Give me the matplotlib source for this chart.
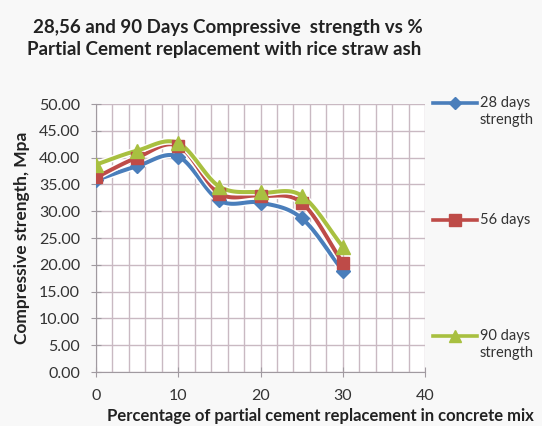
import numpy as np
import matplotlib
matplotlib.use("Agg")
import matplotlib.pyplot as plt
import matplotlib.patheffects as pe
from matplotlib.lines import Line2D

replacement = [0, 5, 10, 15, 20, 25, 30]
days28 = [35.8, 38.4, 40.2, 32.0, 31.6, 28.7, 18.9]
days56 = [36.3, 40.0, 42.2, 33.3, 32.9, 31.6, 20.4]
days90 = [38.7, 41.3, 42.7, 34.6, 33.5, 32.9, 23.4]
series_names = ["28 days\nstrength", "56 days", "90 days\nstrength"]
x_ticks = [0, 10, 20, 30, 40]
y_ticks = [0, 5, 10, 15, 20, 25, 30, 35, 40, 45, 50]

FONT = ["Lato", "DejaVu Sans"]
plt.rcParams['font.family'] = FONT


def smooth(x, y, n=20):
    x = np.asarray(x, float)
    y = np.asarray(y, float)
    px = np.concatenate([[2 * x[0] - x[1]], x, [2 * x[-1] - x[-2]]])
    py = np.concatenate([[2 * y[0] - y[1]], y, [2 * y[-1] - y[-2]]])
    xs, ys = [], []
    t = np.linspace(0, 1, n, endpoint=False)
    for i in range(1, len(px) - 2):
        p0, p1, p2, p3 = px[i - 1], px[i], px[i + 1], px[i + 2]
        q0, q1, q2, q3 = py[i - 1], py[i], py[i + 1], py[i + 2]
        c1x, c1y = p1 + (p2 - p0) / 6, q1 + (q2 - q0) / 6
        c2x, c2y = p2 - (p3 - p1) / 6, q2 - (q3 - q1) / 6
        bx = (1 - t) ** 3 * p1 + 3 * (1 - t) ** 2 * t * c1x + 3 * (1 - t) * t ** 2 * c2x + t ** 3 * p2
        by = (1 - t) ** 3 * q1 + 3 * (1 - t) ** 2 * t * c1y + 3 * (1 - t) * t ** 2 * c2y + t ** 3 * q2
        xs.extend(bx)
        ys.extend(by)
    xs.append(x[-1])
    ys.append(y[-1])
    return np.array(xs), np.array(ys)


fig = plt.figure(figsize=(5.42, 4.26), dpi=100, facecolor="#f8f8f8")
ax = fig.add_axes([96 / 542, 54 / 426, 329 / 542, 268 / 426])
ax.set_facecolor("white")

colors = ["#4a7ebb", "#be4b48", "#a8c040"]
markers = ["D", "s", "^"]
msizes = [7, 9, 10]
data = [days28, days56, days90]
outline = [pe.Stroke(linewidth=5.0, foreground="white"), pe.Normal()]

for vals, c, m, ms in zip(data, colors, markers, msizes):
    sx, sy = smooth(replacement, vals)
    ax.plot(sx, sy, color=c, lw=2.9, solid_capstyle="round", path_effects=outline, zorder=3)
    ax.plot(replacement, vals, linestyle="none", marker=m, ms=ms, color=c,
            markeredgecolor=c, zorder=4)

ax.set_xlim(0, 40)
ax.set_ylim(0, 50)
ax.set_xticks(x_ticks)
ax.set_xticks(np.arange(0, 41, 2), minor=True)
ax.set_yticks(y_ticks)
ax.set_yticklabels([f"{v:.2f}" for v in y_ticks])
ax.grid(True, which="both", axis="x", color="#c9b9c2", lw=1.0)
ax.grid(True, which="major", axis="y", color="#c9b9c2", lw=1.0)
ax.set_axisbelow(True)
for s in ["top", "right"]:
    ax.spines[s].set_visible(False)
for s in ["left", "bottom"]:
    ax.spines[s].set_color("#a09aa0")
ax.tick_params(axis="both", which="major", direction="inout", length=7, color="#a09aa0",
               labelsize=11.5, labelcolor="#333333")
ax.tick_params(axis="x", which="minor", length=0)
ax.tick_params(axis="x", pad=9)
ax.tick_params(axis="y", pad=8)
ax.set_ylabel("Compressive strength, Mpa", fontsize=12.5, fontweight="bold", color="#222222", labelpad=6)

fig.text(320 / 542, 1 - 416 / 426, "Percentage of partial cement replacement in concrete mix",
         ha="center", va="center", fontsize=12, fontweight="bold", color="#222222")
fig.text(33 / 542, 1 - 27 / 426, "28,56 and 90 Days Compressive  strength vs %",
         ha="left", va="center", fontsize=13.5, fontweight="bold", color="#222222")
fig.text(27 / 542, 1 - 50 / 426, "Partial Cement replacement with rice straw ash",
         ha="left", va="center", fontsize=13.5, fontweight="bold", color="#222222")

leg_y = [103, 220, 336]
for name, c, m, ms, yy in zip(series_names, colors, markers, msizes, leg_y):
    yf = 1 - yy / 426
    fig.add_artist(Line2D([433 / 542, 477 / 542], [yf, yf], color=c, lw=2.6,
                          transform=fig.transFigure))
    fig.add_artist(Line2D([455 / 542], [yf], marker=m, ms=ms - 1, color=c,
                          transform=fig.transFigure))
    fig.text(480 / 542, yf + 7 / 426, name, ha="left", va="top", fontsize=10.5,
             color="#333333", linespacing=1.3)

fig.savefig("out.png", dpi=100, facecolor=fig.get_facecolor())
